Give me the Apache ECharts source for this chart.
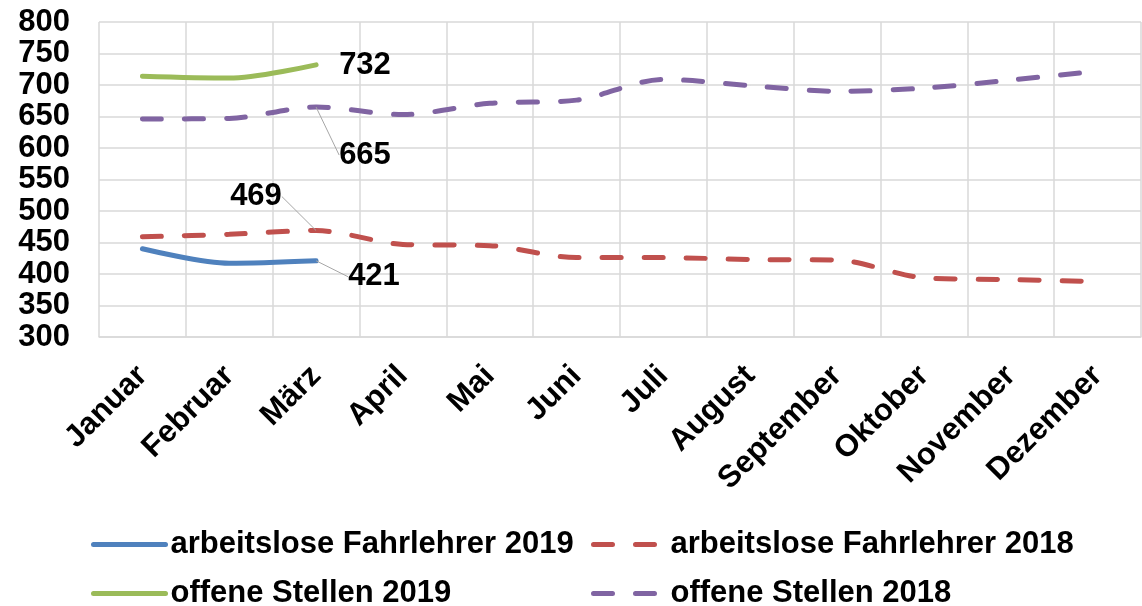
<!DOCTYPE html>
<html style="height: 100%">
   <head>
       <meta charset="utf-8">
   </head>
   <body style="height: 100%; margin: 0">
       <div id="container" style="height: 100%"></div>
       <script type="text/javascript" src="https://cdn.jsdelivr.net/npm/echarts@6/dist/echarts.min.js"></script>
       <script type="text/javascript">

var months = ['Januar', 'Februar', 'März', 'April', 'Mai', 'Juni', 'Juli', 'August', 'September', 'Oktober', 'November', 'Dezember'];
var arbeitslose2019 = [440, 417, 421];
var arbeitslose2018 = [459, 463, 469, 447, 445, 426, 426, 423, 422, 394, 391, 388];
var offene2019 = [714, 711, 732];
var offene2018 = [646, 647, 665, 653, 671, 676, 709, 699, 690, 695, 708, 722];
var labelIndex = 2;  // only März gets a value label

var font = "'Liberation Sans', Arial, sans-serif";
var dash = [19, 23];

function withLabel(values, leader) {
    return values.map(function (v, i) {
        if (i !== labelIndex) return v;
        return {
            value: v,
            label: {show: true},
            labelLine: {show: leader}
        };
    });
}

// shift = label move from position 'right' of the point
function makeSeries(name, values, color, dashed, shift, leader) {
    return {
        name: name,
        type: 'line',
        data: withLabel(values, leader),
        symbol: 'circle',
        symbolSize: 0.1,
        showSymbol: true,
        smooth: 0.3,
        lineStyle: {
            color: color,
            width: 5,
            type: dashed ? dash : 'solid',
            cap: 'round'
        },
        itemStyle: {color: color},
        label: {
            show: false,
            position: 'right',
            color: '#000',
            fontFamily: font,
            fontWeight: 'bold',
            fontSize: 31
        },
        labelLine: {
            lineStyle: {color: '#a6a6a6', width: 1}
        },
        labelLayout: function (params) {
            if (params.dataIndex !== labelIndex) return {};
            return {dx: shift[0], dy: shift[1]};
        }
    };
}

function legendAt(name, left, top, dashed) {
    return {
        data: [name],
        left: left,
        top: top,
        itemWidth: 72,
        itemHeight: 10,
        itemStyle: {opacity: 0},
        lineStyle: {width: 5, cap: 'round', type: dashed ? dash : 'solid'},
        textStyle: {
            color: '#000',
            fontFamily: font,
            fontWeight: 'bold',
            fontSize: 31
        }
    };
}

var dom = document.getElementById("container");
var myChart = echarts.init(dom);
var option = {
    animation: false,
    legend: [
        legendAt('arbeitslose Fahrlehrer 2019', 86, 524, false),
        legendAt('arbeitslose Fahrlehrer 2018', 586, 524, true),
        legendAt('offene Stellen 2019', 86, 573, false),
        legendAt('offene Stellen 2018', 586, 573, true)
    ],
    grid: {left: 99, right: 1, top: 22, bottom: 269},
    xAxis: {
        type: 'category',
        data: months,
        boundaryGap: true,
        axisTick: {show: false},
        axisLine: {lineStyle: {color: '#d9d9d9', width: 1.5}},
        splitLine: {show: true, interval: 0, lineStyle: {color: '#d9d9d9', width: 1.5}},
        axisLabel: {
            interval: 0,
            rotate: 45,
            margin: 34,
            color: '#000',
            fontFamily: font,
            fontWeight: 'bold',
            fontSize: 31
        }
    },
    yAxis: {
        type: 'value',
        min: 300,
        max: 800,
        interval: 50,
        axisLine: {show: false},
        axisTick: {show: false},
        splitLine: {lineStyle: {color: '#d9d9d9', width: 1.5}},
        axisLabel: {
            margin: 29,
            color: '#000',
            fontFamily: font,
            fontWeight: 'bold',
            fontSize: 31
        }
    },
    series: [
        makeSeries('arbeitslose Fahrlehrer 2019', arbeitslose2019, '#4f81bd', false, [27, 16], true),
        makeSeries('arbeitslose Fahrlehrer 2018', arbeitslose2018, '#c0504d', true, [-91, -34], true),
        makeSeries('offene Stellen 2019', offene2019, '#9bbb59', false, [18, 1], false),
        makeSeries('offene Stellen 2018', offene2018, '#8064a2', true, [18, 48], true)
    ]
};
myChart.setOption(option);

window.onresize = function () {
    myChart.resize();
};
       </script>
   </body>
</html>
